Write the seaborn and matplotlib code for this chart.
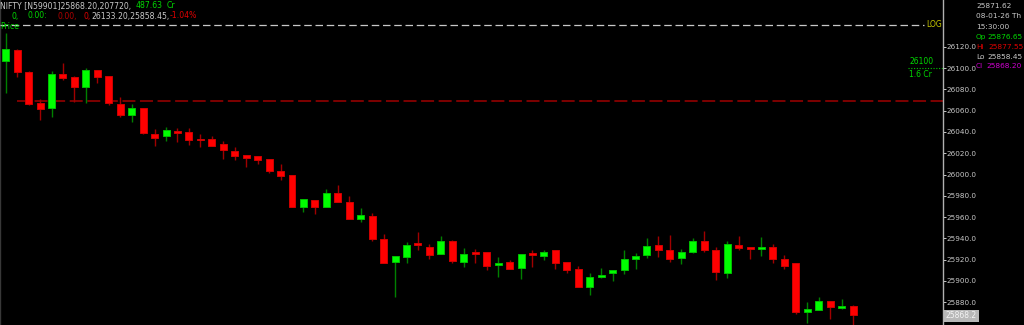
import matplotlib
matplotlib.use("Agg")
import matplotlib.pyplot as plt
from matplotlib.lines import Line2D
import numpy as np
import pandas as pd
import seaborn as sns

# ---------------- data ----------------
opens = [26106.7, 26117.0, 26096.7, 26067.0, 26062.5, 26094.8, 26092.0, 26082.0, 26098.0, 26092.3,
         26066.3, 26056.2, 26062.3, 26037.8, 26036.2, 26041.0, 26039.7, 26033.5, 26033.2, 26029.0,
         26022.4, 26018.3, 26017.4, 26014.3, 26003.6, 25999.2, 25969.7, 25976.0, 25969.7, 25982.3,
         25974.4, 25958.1, 25961.0, 25939.3, 25917.4, 25922.4, 25935.3, 25932.1, 25925.0, 25937.5,
         25918.0, 25926.9, 25926.9, 25915.2, 25918.0, 25912.1, 25925.9, 25923.4, 25929.0, 25917.4,
         25911.4, 25894.5, 25903.9, 25907.4, 25910.2, 25920.5, 25924.3, 25933.7, 25929.0, 25921.2,
         25927.1, 25937.2, 25929.0, 25907.6, 25933.7, 25931.8, 25929.7, 25931.5, 25920.8, 25917.0,
         25871.0, 25872.6, 25880.7, 25874.7, 25876.65]
highs = [26133.2, 26118.0, 26097.6, 26071.0, 26097.3, 26104.6, 26092.5, 26100.4, 26098.5, 26092.5,
         26073.2, 26066.3, 26062.8, 26042.8, 26044.4, 26043.5, 26043.4, 26038.2, 26036.2, 26031.8,
         26025.6, 26018.6, 26017.6, 26014.5, 26009.6, 25999.5, 25976.9, 25976.2, 25986.4, 25990.1,
         25979.8, 25968.8, 25963.5, 25943.8, 25923.6, 25936.8, 25946.2, 25934.6, 25942.4, 25938.4,
         25930.6, 25929.7, 25927.1, 25922.1, 25919.6, 25925.4, 25929.0, 25929.0, 25929.2, 25917.6,
         25913.9, 25907.6, 25912.1, 25910.4, 25929.0, 25925.9, 25940.0, 25942.4, 25943.1, 25930.2,
         25940.0, 25946.9, 25931.5, 25937.5, 25942.2, 25932.0, 25941.5, 25934.6, 25924.3, 25917.2,
         25879.8, 25885.1, 25880.9, 25882.6, 25877.55]
lows = [26076.4, 26092.0, 26065.4, 26051.3, 26054.1, 26088.9, 26068.5, 26067.5, 26086.3, 26065.4,
        26054.4, 26049.1, 26038.0, 26027.1, 26031.5, 26030.4, 26027.7, 26026.0, 26026.9, 26014.5,
        26013.6, 26007.3, 26009.6, 26001.7, 25994.8, 25969.0, 25964.7, 25962.8, 25969.5, 25974.2,
        25958.0, 25955.3, 25937.5, 25916.5, 25884.5, 25916.5, 25929.0, 25920.5, 25924.8, 25916.8,
        25913.0, 25917.0, 25910.2, 25903.9, 25911.2, 25901.4, 25913.3, 25919.6, 25910.8, 25907.0,
        25893.9, 25886.7, 25903.0, 25899.6, 25906.1, 25910.8, 25921.2, 25922.1, 25918.0, 25915.8,
        25925.9, 25926.8, 25901.0, 25903.0, 25929.0, 25920.8, 25923.6, 25917.0, 25910.8, 25868.8,
        25860.6, 25872.4, 25864.4, 25873.5, 25858.45]
closes = [26118.0, 26096.7, 26066.3, 26061.6, 26094.2, 26091.0, 26082.6, 26098.3, 26091.7, 26067.0,
          26056.2, 26062.3, 26039.0, 26034.6, 26041.8, 26038.6, 26032.4, 26032.2, 26027.1, 26022.8,
          26017.7, 26015.8, 26013.4, 26003.3, 25998.9, 25969.7, 25976.7, 25969.2, 25982.9, 25974.4,
          25958.4, 25961.6, 25939.3, 25916.8, 25923.4, 25933.7, 25933.4, 25924.3, 25937.7, 25918.6,
          25925.0, 25925.5, 25914.2, 25917.0, 25911.4, 25925.2, 25924.3, 25927.4, 25917.0, 25910.2,
          25894.5, 25903.6, 25905.8, 25910.2, 25920.5, 25923.4, 25932.5, 25928.7, 25920.3, 25927.1,
          25937.7, 25928.7, 25908.3, 25934.9, 25931.2, 25930.2, 25931.8, 25920.3, 25914.2, 25871.0,
          25873.2, 25881.3, 25875.4, 25876.6, 25868.20]

price_ticks = [25880, 25900, 25920, 25940, 25960, 25980, 26000, 26020, 26040, 26060, 26080, 26100, 26120]
ref_level = 26069.1        # dark red dashed reference line
marker_level = 26100       # green dotted marker
last_price_label = "25868.2"

# header groups: (start x in px, [(text, colour), ...]) - pieces in a group are placed back to back
header_line1 = [(0, [("NIFTY [N59901]25868.20,207720,", "#c8c8c8")]),
                (136, [("487.63", "#00d800")]),
                (167, [("Cr", "#00d800")])]
header_line2 = [(12, [("0,", "#00d800")]),
                (27, [("0.00:", "#00d800")]),
                (57, [("0.00,", "#b00000")]),
                (84, [("0,", "#e00000"), ("26133.20,25858.45,", "#c8c8c8"), ("-1.04%", "#e00000")])]
panel_lines = [
    [(976, [("25871.62", "#c8c8c8")])],
    [(976, [("08-01-26 Th", "#c8c8c8")])],
    [(976, [("15:30:00", "#c8c8c8")])],
    [(976, [("Op", "#00d800")]), (987, [("25876.65", "#00d800")])],
    [(976, [("Hi", "#e00000")]), (988, [("25877.55", "#e00000")])],
    [(976, [("Lo", "#c8c8c8")]), (987, [("25858.45", "#c8c8c8")])],
    [(976, [("Cl", "#d000d0")]), (986, [("25868.20", "#d000d0")])],
]

df = pd.DataFrame({"open": opens, "high": highs, "low": lows, "close": closes})
df["idx"] = np.arange(len(df))
df["up"] = df["close"] >= df["open"]

# ---------------- style ----------------
sns.set_theme(style="dark", rc={"axes.facecolor": "black", "figure.facecolor": "black",
                                 "savefig.facecolor": "black", "axes.grid": False})
plt.rcParams["font.family"] = ["DejaVu Sans"]

W, H = 1024, 325
fig = plt.figure(figsize=(W / 100, H / 100), dpi=100)
ax = fig.add_axes([0, 0, 943 / W, 1])
ax.set_facecolor("black")
renderer = fig.canvas.get_renderer()


def fx(x):
    return x / W


def fy(y):
    return 1 - y / H


def put_groups(groups, y, size):
    for x0, pieces in groups:
        x = x0
        for txt, col in pieces:
            t = fig.text(fx(x), fy(y), txt, color=col, fontsize=size, va="center", ha="left")
            bb = t.get_window_extent(renderer)
            x = bb.x1


# reference dashed line (behind candles)
ax.plot([-0.5 + 17 / 943 * 82.35, 81.85], [ref_level, ref_level], color="#a00000",
        lw=1.1, dashes=(8.5, 3), zorder=1)

# wicks
up = df[df["up"]]
dn = df[~df["up"]]
ax.vlines(up["idx"], up["low"], up["high"], color="#008000", lw=1.0, zorder=2)
ax.vlines(dn["idx"], dn["low"], dn["high"], color="#a00000", lw=1.0, zorder=2)

# bodies
bw = 0.61
body_lo = np.minimum(df["open"], df["close"])
body_h = np.abs(df["close"] - df["open"])
colors = np.where(df["up"], "#00ff00", "#ff0000")
edges = np.where(df["up"], "#00c000", "#d00000")
ax.bar(df["idx"], body_h, bottom=body_lo, width=bw, color=colors, edgecolor=edges,
       linewidth=0.7, zorder=3)

ax.set_xlim(-0.5, 81.85)
ax.set_ylim(25858.5, 26164.1)
ax.set_xticks([])
ax.yaxis.tick_right()
ax.set_yticks(price_ticks)
ax.set_yticklabels([f"{t:.1f}" for t in price_ticks])
ax.tick_params(axis="y", colors="#c8c8c8", labelsize=5.2, length=2, width=0.7, pad=0.8,
               direction="out", right=True, left=False)
for s in ["top", "bottom"]:
    ax.spines[s].set_visible(False)
ax.spines["right"].set_color("#b0b0b0")
ax.spines["right"].set_linewidth(1.0)
ax.spines["left"].set_color("#383838")
ax.spines["left"].set_linewidth(1.0)

# green dotted marker line near right edge
ax.plot([(908 / 943) * 82.35 - 0.5, 81.85], [marker_level, marker_level], color="#00c000",
        lw=0.8, ls=(0, (1, 1.5)), zorder=2)
fig.text(fx(909), fy(61.5), str(marker_level), color="#00d800", fontsize=5.5, va="center", ha="left")
fig.text(fx(909), fy(74.5), "1.6 Cr", color="#00d800", fontsize=5.5, va="center", ha="left")

# white dashed LOG line
fig.add_artist(Line2D([0, fx(924)], [fy(24.5), fy(24.5)], color="#c8c8c8", lw=0.9,
                      dashes=(6, 3), transform=fig.transFigure))
fig.text(fx(926), fy(24.7), "LOG", color="#c8c800", fontsize=5.5, va="center", ha="left")

# header
put_groups(header_line1, 6, 5.6)
put_groups(header_line2, 16, 5.6)
fig.text(fx(0), fy(26.5), "Price", color="#00d800", fontsize=5.6, va="center", ha="left")

# right panel
panel_y = [6, 16, 26.6, 37, 47, 56.7, 66.3]
for groups, yy in zip(panel_lines, panel_y):
    put_groups(groups, yy, 5.3)

# last price box
fig.text(fx(946), fy(316), last_price_label, color="#f4f4f4", fontsize=5.5, va="center", ha="left",
         bbox=dict(boxstyle="square,pad=0.25", facecolor="#b8b8b8", edgecolor="none"))

fig.savefig("out.png", dpi=100, facecolor="black")
